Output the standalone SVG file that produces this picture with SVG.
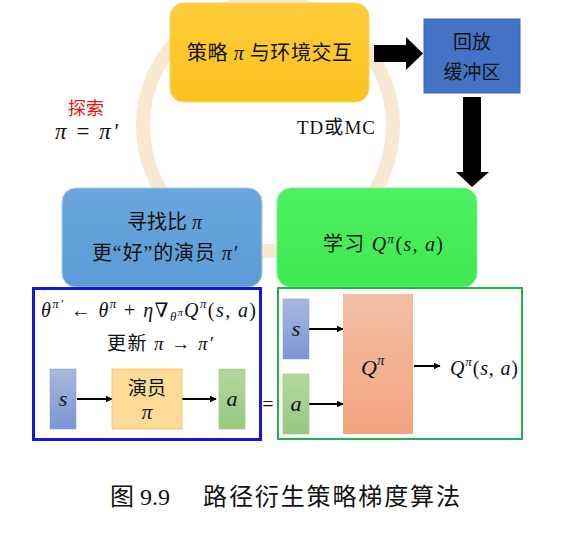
<svg xmlns="http://www.w3.org/2000/svg" width="585" height="550" viewBox="0 0 585 550">
<defs>
<linearGradient id="gY" x1="0" y1="0" x2="0" y2="1"><stop offset="0" stop-color="#ffcd3a"/><stop offset="1" stop-color="#fcc21e"/></linearGradient>
<linearGradient id="gB" x1="0" y1="0" x2="0" y2="1"><stop offset="0" stop-color="#6aa6dc"/><stop offset="1" stop-color="#5c9bd6"/></linearGradient>
<linearGradient id="gG" x1="0" y1="0" x2="0" y2="1"><stop offset="0" stop-color="#4ef060"/><stop offset="1" stop-color="#3eea52"/></linearGradient>
<linearGradient id="gS" x1="0" y1="0" x2="0" y2="1"><stop offset="0" stop-color="#a8b8e0"/><stop offset="1" stop-color="#7b96d2"/></linearGradient>
<linearGradient id="gA" x1="0" y1="0" x2="0" y2="1"><stop offset="0" stop-color="#b4d8a0"/><stop offset="1" stop-color="#98c880"/></linearGradient>
<linearGradient id="gQ" x1="0" y1="0" x2="0" y2="1"><stop offset="0" stop-color="#f2bfa6"/><stop offset="1" stop-color="#f3a47f"/></linearGradient>
<marker id="ah" viewBox="0 0 10 10" refX="9" refY="5" markerWidth="7" markerHeight="7" markerUnits="userSpaceOnUse" orient="auto"><path d="M0,0 L10,5 L0,10 z" fill="#000"/></marker>
</defs>
<style>
.cn{font-family:"Liberation Serif","Noto Sans CJK SC",serif;fill:#111}
.m{font-family:"Liberation Serif","DejaVu Serif",serif;font-style:italic;fill:#111}
.up{font-style:normal}
.ln{stroke:#000;stroke-width:2;fill:none;marker-end:url(#ah)}
</style>
<rect width="585" height="550" fill="#fff"/>
<g id="cycle">
<circle cx="268" cy="126" r="125" fill="none" stroke="#f9e9d2" stroke-width="14"/>
<path d="M146,73 L168,58 L158,80 z" fill="#f9e9d2"/>
</g>
<g id="connectors">
<path d="M374,45 H406 V37 L423,53.5 L406,70 V62 H374 z" fill="#000"/>
<path d="M463,97 H481 V172 H489 L472,187 L456,172 H463 z" fill="#000"/>
<line x1="77" y1="399" x2="112" y2="399" class="ln"/>
<line x1="182" y1="399" x2="216" y2="399" class="ln"/>
<line x1="309" y1="329" x2="343" y2="329" class="ln"/>
<line x1="309" y1="404" x2="343" y2="404" class="ln"/>
<line x1="414" y1="366" x2="440" y2="366" class="ln"/>
</g>
<g id="interact">
<rect x="170" y="3" width="199" height="99" rx="14" fill="url(#gY)" stroke="#f5d46a" stroke-width="1"/>
<text x="187" y="60" class="cn" font-size="20" textLength="165" lengthAdjust="spacing">策略 <tspan class="m">π</tspan> 与环境交互</text>
</g>
<g id="buffer">
<rect x="424" y="19" width="96" height="74" fill="#4473c5" stroke="#3a65b2" stroke-width="1"/>
<text x="472" y="49" class="cn" font-size="19" text-anchor="middle">回放</text>
<text x="472" y="79" class="cn" font-size="19" text-anchor="middle">缓冲区</text>
</g>
<g id="explore">
<text x="86" y="115" class="cn" font-size="18" style="fill:#ee1111" text-anchor="middle">探索</text>
<text x="55" y="139" class="m" font-size="23" textLength="63" lengthAdjust="spacing">π <tspan class="up">=</tspan> π′</text>
</g>
<g id="tdmc">
<text x="297" y="134" class="cn" font-size="19" textLength="78" lengthAdjust="spacing">TD或MC</text>
</g>
<g id="actor">
<rect x="62" y="188" width="200" height="99" rx="14" fill="url(#gB)" stroke="#a8ccee" stroke-width="1"/>
<text x="127" y="229" class="cn" font-size="20" textLength="75" lengthAdjust="spacing">寻找比 <tspan class="m">π</tspan></text>
<text x="92" y="260" class="cn" font-size="20" textLength="145" lengthAdjust="spacing">更“好”的演员 <tspan class="m">π′</tspan></text>
</g>
<g id="critic">
<rect x="277" y="188" width="200" height="99" rx="14" fill="url(#gG)" stroke="#7ff58a" stroke-width="1"/>
<text x="323" y="251" class="cn" font-size="20" textLength="120" lengthAdjust="spacing">学习 <tspan class="m">Q<tspan font-size="13" dy="-8">π</tspan><tspan class="up" dy="8">(</tspan>s<tspan class="up">, </tspan>a<tspan class="up">)</tspan></tspan></text>
</g>
<g id="actor-update">
<rect x="33.5" y="288.5" width="227" height="151" fill="none" stroke="#1515e0" stroke-width="3"/>
<text x="41" y="317" class="m" font-size="20" textLength="215" lengthAdjust="spacing">θ<tspan font-size="13" dy="-9">π′</tspan><tspan class="up" dy="9"> ← </tspan>θ<tspan font-size="13" dy="-9">π</tspan><tspan class="up" dy="9"> + </tspan>η<tspan class="up">∇</tspan><tspan font-size="13" dy="4">θ</tspan><tspan font-size="10" dy="-5">π</tspan><tspan dy="1">Q</tspan><tspan font-size="13" dy="-9">π</tspan><tspan class="up" dy="9">(</tspan>s<tspan class="up">, </tspan>a<tspan class="up">)</tspan></text>
<text x="107" y="350" class="cn" font-size="19" textLength="106" lengthAdjust="spacing">更新 <tspan class="m">π</tspan> → <tspan class="m">π′</tspan></text>
<g id="actor-s"><rect x="50" y="369" width="26" height="60" fill="url(#gS)" stroke="#7f98cc" stroke-width="0.5"/><text x="63" y="406" class="m" font-size="22" text-anchor="middle">s</text></g>
<g id="actor-net"><rect x="112" y="369" width="70" height="60" fill="#fddc98" stroke="#f4c060" stroke-width="0.8"/><text x="147" y="395" class="cn" font-size="19" text-anchor="middle">演员</text><text x="147" y="419" class="m" font-size="21" text-anchor="middle">π</text></g>
<g id="actor-a"><rect x="219" y="369" width="26" height="60" fill="url(#gA)" stroke="#8fc070" stroke-width="0.5"/><text x="232" y="406" class="m" font-size="22" text-anchor="middle">a</text></g>
</g>
<text x="268" y="411" class="cn" font-size="20" text-anchor="middle">=</text>
<g id="critic-net">
<rect x="278" y="288" width="244" height="151" fill="none" stroke="#22b04e" stroke-width="2"/>
<g id="critic-s"><rect x="283" y="299" width="26" height="60" fill="url(#gS)" stroke="#7f98cc" stroke-width="0.5"/><text x="296" y="336" class="m" font-size="22" text-anchor="middle">s</text></g>
<g id="critic-a"><rect x="283" y="374" width="26" height="60" fill="url(#gA)" stroke="#8fc070" stroke-width="0.5"/><text x="296" y="411" class="m" font-size="22" text-anchor="middle">a</text></g>
<g id="critic-q"><rect x="343" y="294" width="70" height="140" fill="url(#gQ)"/><text x="361" y="375" class="m" font-size="22">Q<tspan font-size="15" dy="-10">π</tspan></text></g>
<text x="450" y="375" class="m" font-size="20" textLength="68" lengthAdjust="spacing">Q<tspan font-size="13" dy="-9">π</tspan><tspan class="up" dy="9">(</tspan>s<tspan class="up">, </tspan>a<tspan class="up">)</tspan></text>
</g>
<g id="caption">
<text x="110" y="505" class="cn" font-size="24">图</text>
<text x="140" y="505" class="cn" font-size="24">9.9</text>
<text x="203" y="505" class="cn" font-size="24" textLength="257" lengthAdjust="spacing">路径衍生策略梯度算法</text>
</g>
</svg>
